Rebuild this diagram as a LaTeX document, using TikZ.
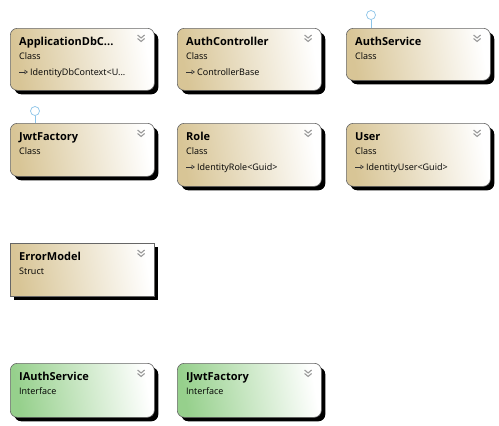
\documentclass[tikz,border=0pt]{standalone}
\usepackage{fontspec}
\setmainfont{Open Sans}
\usetikzlibrary{shadows}
\usetikzlibrary{arrows.meta}
\definecolor{classtan}{RGB}{216,197,150}
\definecolor{ifgreen}{RGB}{150,208,140}
\definecolor{lolblue}{RGB}{140,196,232}

\begin{document}
\begin{tikzpicture}[x=1pt,y=-1pt,
    umlbox/.style={draw=black!60, line width=0.6pt, anchor=north west, minimum width=144pt, inner sep=0pt,
        drop shadow={fill=black, opacity=1, shadow xshift=4pt, shadow yshift=-4pt}},
    classbox/.style={umlbox, rounded corners=7pt, left color=classtan, right color=white, shading angle=100},
    structbox/.style={umlbox, left color=classtan, right color=white, shading angle=100},
    ifacebox/.style={umlbox, rounded corners=7pt, left color=ifgreen, right color=white, shading angle=100},
    boxtitle/.style={anchor=base west, xshift=9pt, yshift=-17pt, inner sep=0pt, font=\fontsize{11}{13}\selectfont\bfseries},
    boxkind/.style={anchor=base west, xshift=9pt, yshift=-31pt, inner sep=0pt, font=\fontsize{9}{11}\selectfont},
    boxparent/.style={anchor=base west, xshift=20pt, yshift=-47pt, inner sep=0pt, font=\fontsize{9}{11}\selectfont},
    lollipop/.style={circle, draw=lolblue, fill=white, line width=0.7pt, minimum size=9pt, inner sep=0pt},
    chevron/.pic={\draw[black!40, line width=1.1pt] (-17,7) -- (-13.5,10) -- (-10,7) (-17,10.5) -- (-13.5,13.5) -- (-10,10.5);},
    inherit/.pic={\draw[black!80, line width=0.6pt, -{Triangle[open, length=3.5pt, width=4.5pt]}] (9,44) -- (18,44);}
]
    \useasboundingbox (0,0) rectangle (499,426);

    % 第一行
    \node[classbox, minimum height=62pt] (appdb) at (10,28) {};
    \node[boxtitle] (appdbname) at (appdb.north west) {ApplicationDbC...};
    \node[boxkind] (appdbkind) at (appdb.north west) {Class};
    \node[boxparent] (appdbbase) at (appdb.north west) {IdentityDbContext<U...};
    \pic at (appdb.north west) {inherit};
    \pic at (appdb.north east) {chevron};

    \node[classbox, minimum height=62pt] (authctrl) at (177,28) {};
    \node[boxtitle] (authctrlname) at (authctrl.north west) {AuthController};
    \node[boxkind] (authctrlkind) at (authctrl.north west) {Class};
    \node[boxparent] (authctrlbase) at (authctrl.north west) {ControllerBase};
    \pic at (authctrl.north west) {inherit};
    \pic at (authctrl.north east) {chevron};

    \node[lollipop] (lolsvc) at (371,15) {};
    \draw[lolblue, line width=0.7pt] (lolsvc) -- (lolsvc |- 0,28);
    \node[classbox, minimum height=52pt] (authsvc) at (346,28) {};
    \node[boxtitle] (authsvcname) at (authsvc.north west) {AuthService};
    \node[boxkind] (authsvckind) at (authsvc.north west) {Class};
    \pic at (authsvc.north east) {chevron};

    % 第二行
    \node[lollipop] (loljwt) at (35,111) {};
    \draw[lolblue, line width=0.7pt] (loljwt) -- (loljwt |- 0,123);
    \node[classbox, minimum height=53pt] (jwt) at (10,123) {};
    \node[boxtitle] (jwtname) at (jwt.north west) {JwtFactory};
    \node[boxkind] (jwtkind) at (jwt.north west) {Class};
    \pic at (jwt.north east) {chevron};

    \node[classbox, minimum height=63pt] (role) at (177,123) {};
    \node[boxtitle] (rolename) at (role.north west) {Role};
    \node[boxkind] (rolekind) at (role.north west) {Class};
    \node[boxparent] (rolebase) at (role.north west) {IdentityRole<Guid>};
    \pic at (role.north west) {inherit};
    \pic at (role.north east) {chevron};

    \node[classbox, minimum height=63pt] (user) at (346,123) {};
    \node[boxtitle] (username) at (user.north west) {User};
    \node[boxkind] (userkind) at (user.north west) {Class};
    \node[boxparent] (userbase) at (user.north west) {IdentityUser<Guid>};
    \pic at (user.north west) {inherit};
    \pic at (user.north east) {chevron};

    % 结构体
    \node[structbox, minimum height=53pt] (errmodel) at (10,243) {};
    \node[boxtitle] (errmodelname) at (errmodel.north west) {ErrorModel};
    \node[boxkind] (errmodelkind) at (errmodel.north west) {Struct};
    \pic at (errmodel.north east) {chevron};

    % 接口
    \node[ifacebox, minimum height=54pt] (iauth) at (10,363) {};
    \node[boxtitle] (iauthname) at (iauth.north west) {IAuthService};
    \node[boxkind] (iauthkind) at (iauth.north west) {Interface};
    \pic at (iauth.north east) {chevron};

    \node[ifacebox, minimum height=54pt] (ijwt) at (177,363) {};
    \node[boxtitle] (ijwtname) at (ijwt.north west) {IJwtFactory};
    \node[boxkind] (ijwtkind) at (ijwt.north west) {Interface};
    \pic at (ijwt.north east) {chevron};

\end{tikzpicture}
\end{document}
